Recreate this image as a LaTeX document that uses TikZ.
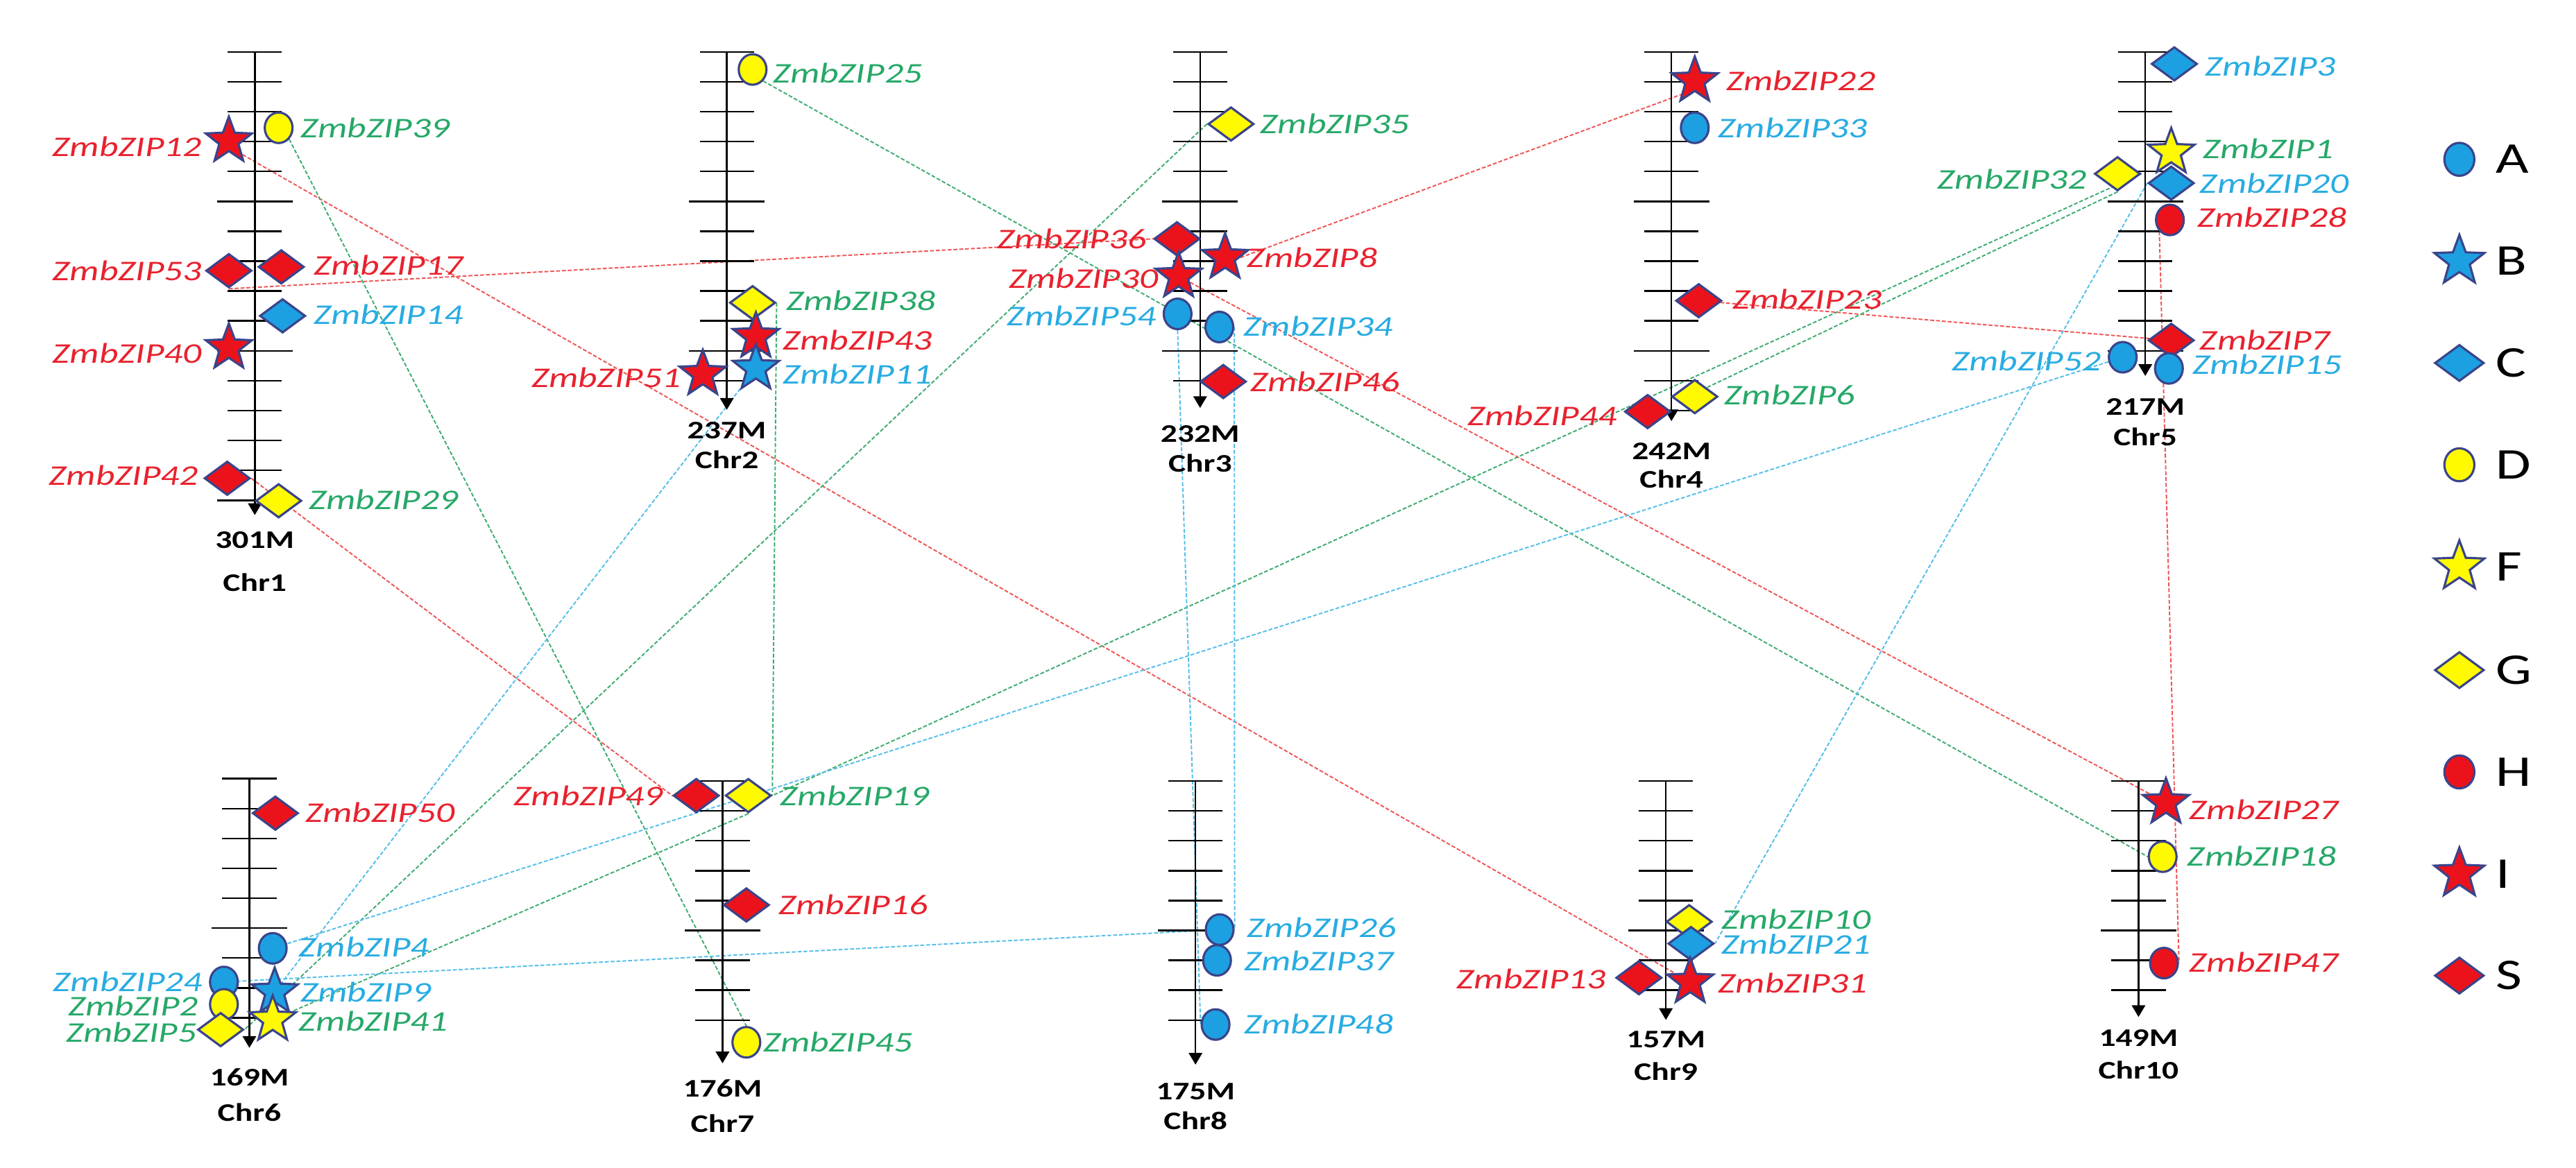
\documentclass[tikz,border=0pt]{standalone}
\usepackage{fontspec}
\setmainfont{Carlito}[FakeStretch=1.3]
\usetikzlibrary{shapes.geometric,arrows.meta}

\definecolor{symred}{RGB}{236,18,28}
\definecolor{symblue}{RGB}{28,160,226}
\definecolor{symyellow}{RGB}{255,250,0}
\definecolor{symedge}{RGB}{58,68,138}
\definecolor{txtred}{RGB}{232,34,46}
\definecolor{txtgreen}{RGB}{38,168,104}
\definecolor{txtblue}{RGB}{40,172,226}
\definecolor{lnred}{RGB}{240,84,84}
\definecolor{lngreen}{RGB}{62,172,112}
\definecolor{lnblue}{RGB}{84,190,232}

\pgfdeclarelayer{back}
\pgfsetlayers{back,main}

\tikzset{
  sym/.style={draw=symedge, line width=0.9pt, inner sep=0pt},
  oval/.style={sym, ellipse, minimum width=0.40cm, minimum height=0.44cm},
  starry/.style={sym, star, star points=5, star point ratio=2.4, minimum size=0.70cm},
  rhomb/.style={sym, diamond, minimum width=0.66cm, minimum height=0.49cm},
  gA/.style={oval, fill=symblue},
  gB/.style={starry, fill=symblue},
  gC/.style={rhomb, fill=symblue},
  gD/.style={oval, fill=symyellow},
  gF/.style={starry, fill=symyellow},
  gG/.style={rhomb, fill=symyellow},
  gH/.style={oval, fill=symred},
  gI/.style={starry, fill=symred},
  gS/.style={rhomb, fill=symred},
  genelbl/.style={inner sep=0pt, font=\itshape\fontsize{11.7}{13}\selectfont},
  tr/.style={genelbl, text=txtred},
  tg/.style={genelbl, text=txtgreen},
  tb/.style={genelbl, text=txtblue},
  chrlbl/.style={inner sep=0pt, font=\bfseries\fontsize{10.4}{12}\selectfont},
  keytxt/.style={inner sep=0pt, font=\fontsize{18}{20}\selectfont},
  axis/.style={line width=0.7pt, -{Triangle[width=5.5pt,length=4.8pt]}},
  tick/.style={line width=0.7pt},
  link/.style={line width=0.55pt, dash pattern=on 1.6pt off 0.8pt},
  redlink/.style={link, draw=lnred},
  greenlink/.style={link, draw=lngreen},
  bluelink/.style={link, draw=lnblue}
}

\begin{document}
\begin{tikzpicture}[x=0.02368cm, y=-0.02368cm]
\useasboundingbox (0,0) rectangle (1568,711);

% chromosomes: number / x / top / tip / last tick / size label y / name label y / size
\foreach \c/\x/\y/\t/\n/\sy/\cy/\s in {
    1/155.1/31.6/313.6/15/329/354.8/301M,
    2/442.4/31.6/249.5/11/262/280/237M,
    3/730.5/31.6/248.4/11/264/282/232M,
    4/1017.4/31.6/256.4/12/274.7/291.8/242M,
    5/1305.8/31.6/228.9/10/247.7/266/217M,
    6/151.8/474.1/638/8/655.9/677.3/169M,
    7/439.8/475.5/647.4/8/662.7/684.1/176M,
    8/727.7/475.5/648.2/8/664.5/682.4/175M,
    9/1014/475.5/621/7/632.9/652.5/157M,
    10/1301.7/475.5/619.2/7/632/651.7/149M}{
  \coordinate (c\c t) at (\x,\y);
  \coordinate (c\c b) at (\x,\t);
  \draw[axis] (c\c t) -- (c\c b);
  \foreach \k in {0,...,\n}{
    \pgfmathsetmacro\hw{and(mod(\k,5)==0,\k>0) ? 23 : 16.5}
    \draw[tick] (\x-\hw,\y+\k*18.2) -- (\x+\hw,\y+\k*18.2);
  }
  \node[chrlbl] (m\c) at (\x,\sy) {\s};
  \node[chrlbl] (n\c) at (\x,\cy) {Chr\c};
}

% genes: number / group / x / y / text style / anchor / label x / label y
\foreach \g/\grp/\x/\y/\t/\a/\lx/\ly in {
    39/gD/169.6/77.8/tg/west/182.7/77.8,
    12/gI/139.3/85.8/tr/east/123.2/89.3,
    53/gS/139.3/164.8/tr/east/123.2/164.8,
    17/gS/171.2/162.5/tr/west/190.8/161.6,
    14/gC/172/192.3/tb/west/190.8/191.4,
    40/gI/139.3/211.7/tr/east/123.2/215.2,
    42/gS/138.3/291.2/tr/east/121.1/289.6,
    29/gG/169.6/304.9/tg/west/187.8/304.4,
    25/gD/458.1/42.3/tg/west/470.2/44.6,
    38/gG/458.1/184.3/tg/west/478.3/183.1,
    43/gI/460.1/204.9/tr/west/476.3/207.2,
    11/gB/460.1/224.3/tb/west/476.3/227.8,
    51/gI/427.8/227.8/tr/east/414.7/230,
    35/gG/749.3/75.5/tg/west/766.9/75.5,
    36/gS/716.4/145.4/tr/east/698.2/145.4,
    8/gI/745.7/156.8/tr/west/758.8/156.8,
    30/gI/717.4/168.2/tr/east/705.3/169.4,
    54/gA/716.8/191.1/tb/east/704.3/192.3,
    34/gA/742.2/199.1/tb/west/756.8/198.7,
    46/gS/744.6/232.3/tr/west/760.8/232.3,
    22/gI/1031.6/49.2/tr/west/1050.4/49.2,
    33/gA/1031.6/77.8/tb/west/1045.7/77.8,
    23/gS/1034/183.1/tr/west/1054.2/182,
    6/gG/1031.6/241.5/tg/west/1049.5/240.3,
    44/gS/1002.9/250.6/tr/east/984.5/252.9,
    3/gC/1323.5/38.9/tb/west/1342.1/40.1,
    1/gF/1321.6/92.7/tg/west/1340.7/90.4,
    32/gG/1288.9/105.8/tg/east/1270.5/109,
    20/gC/1321.6/111.5/tb/west/1338.8/111.5,
    28/gH/1320.8/133.9/tr/west/1337.2/132.3,
    7/gS/1321.6/207.2/tr/west/1338.8/207.2,
    52/gA/1292.1/217.5/tb/east/1279.3/219.7,
    15/gA/1320.2/224.3/tb/west/1334.4/222,
    50/gS/167.6/495.1/tr/west/185.7/494.6,
    4/gA/166/577.4/tb/west/181.7/576.5,
    24/gA/136.3/597.9/tb/east/123.6/597.9,
    2/gD/136.3/611.5/tg/east/121.1/612.4,
    5/gG/134.3/626.9/tg/east/120.1/628.6,
    9/gB/167.2/603.9/tb/west/182.7/603.9,
    41/gF/166/620.9/tg/west/181.7/621.8,
    49/gS/423.8/484.4/tr/east/404/484.4,
    19/gG/455.5/484.4/tg/west/474.7/484.4,
    16/gS/454.3/551/tr/west/473.7/551,
    45/gD/454.3/634.6/tg/west/464.3/634.6,
    26/gA/742.4/566/tb/west/758.8/564.6,
    37/gA/740.8/584.7/tb/west/756.9/585.1,
    48/gA/739.9/623.8/tb/west/756.9/623.5,
    10/gG/1028.2/561.2/tg/west/1047.6/559.5,
    21/gC/1029.3/574.5/tb/west/1047.6/574.8,
    13/gS/997.6/595.3/tr/east/977.9/596.2,
    31/gI/1028.8/597.9/tr/west/1045.7/598.7,
    27/gI/1318.4/488.6/tr/west/1332.4/492.9,
    18/gD/1316.4/521.6/tg/west/1331.2/521.1,
    47/gH/1317.2/586.4/tr/west/1332.4/585.9}{
  \node[\grp] (z\g) at (\x,\y) {};
  \node[\t, anchor=\a] (l\g) at (\lx,\ly) {ZmbZIP\g};
}

% duplicated pairs
\begin{pgfonlayer}{back}
  \draw[redlink] (z12.south east) -- (z31);
  \draw[redlink] (z53.south) -- (z36.west);
  \draw[redlink] (z8.east) -- (z22.south west);
  \draw[redlink] (z30) -- (z27);
  \draw[redlink] (z23) -- (z7);
  \draw[redlink] (z28.south west) -- (z47.east);
  \draw[redlink] (z42.east) -- (z49.west);
  \draw[greenlink] (z39.south east) -- (z45.north);
  \draw[greenlink] (z25.south east) -- (z18.west);
  \draw[greenlink] (z38.east) -- (z19.east);
  \draw[greenlink] (z35.west) -- (z5.east);
  \draw[greenlink] (z32.east) -- (z19.east);
  \draw[greenlink] (z32.south) -- (z6.north east);
  \draw[greenlink] (z19.south) -- (z41);
  \draw[bluelink] (z11) -- (z9);
  \draw[bluelink] (z52) -- (z4);
  \draw[bluelink] (z26) -- (z24);
  \draw[bluelink] (z54.south) -- (z48.west);
  \draw[bluelink] (z34.east) -- (z26.east);
  \draw[bluelink] (z20.west) -- (z21.east);
\end{pgfonlayer}

% legend
\foreach \grp/\L/\y in {gA/A/97, gB/B/159, gC/C/221, gD/D/283, gF/F/345,
                        gG/G/408, gH/H/470, gI/I/532, gS/S/594}{
  \node[\grp, scale=1.08] (k\L) at (1497,\y) {};
  \node[keytxt, anchor=west] (t\L) at (1519,\y) {\L};
}
\end{tikzpicture}
\end{document}
